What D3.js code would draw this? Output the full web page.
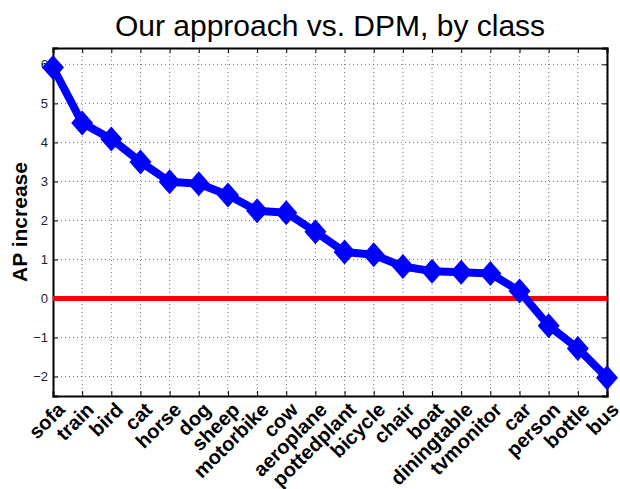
<!DOCTYPE html>
<html>
<head>
<meta charset="utf-8">
<script src="https://cdn.jsdelivr.net/npm/d3@7"></script>
<style>
  body { margin: 0; background: #fff; }
  text { font-family: "Liberation Sans", Arial, Helvetica, sans-serif; }
</style>
</head>
<body>
<div id="container"></div>
<script>
var classes = ["sofa", "train", "bird", "cat", "horse", "dog", "sheep", "motorbike", "cow",
  "aeroplane", "pottedplant", "bicycle", "chair", "boat", "diningtable", "tvmonitor",
  "car", "person", "bottle", "bus"];
var apIncrease = [5.92, 4.5, 4.09, 3.5, 2.99, 2.94, 2.65, 2.25, 2.2, 1.71, 1.19, 1.12,
  0.82, 0.7, 0.67, 0.64, 0.19, -0.7, -1.28, -2.03];
var yTicks = [-2, -1, 0, 1, 2, 3, 4, 5, 6];

var margin = {top: 48, right: 13, bottom: 93, left: 53},
    width = 620 - margin.left - margin.right,
    height = 489 - margin.top - margin.bottom;

var svg = d3.select("#container")
  .append("svg")
    .attr("width", 620)
    .attr("height", 489)
  .append("g")
    .attr("transform", "translate(" + margin.left + "," + margin.top + ")");

var x = d3.scalePoint()
  .domain(classes)
  .range([0, width]);

var y = d3.scaleLinear()
  .domain([-2.5, 6.42])
  .range([height, 0]);

// grid
svg.append("g")
  .selectAll("line")
  .data(classes.slice(1))
  .enter()
  .append("line")
    .attr("x1", function (d) { return x(d); })
    .attr("x2", function (d) { return x(d); })
    .attr("y1", 0)
    .attr("y2", height)
    .attr("stroke", "#777")
    .attr("stroke-width", 1)
    .attr("stroke-dasharray", "1,3");

svg.append("g")
  .selectAll("line")
  .data(yTicks)
  .enter()
  .append("line")
    .attr("x1", 0)
    .attr("x2", width)
    .attr("y1", function (d) { return y(d); })
    .attr("y2", function (d) { return y(d); })
    .attr("stroke", "#777")
    .attr("stroke-width", 1)
    .attr("stroke-dasharray", "1,3");

// axes (MATLAB style, inward ticks on all sides)
var fmt = function (d) { return d < 0 ? "\u2212" + Math.abs(d) : d; };

var yAxis = svg.append("g")
  .call(d3.axisLeft(y).tickValues(yTicks).tickSize(-5).tickPadding(5).tickFormat(fmt));
yAxis.selectAll("text").attr("font-size", 13).attr("fill", "#222");

svg.append("g")
  .attr("transform", "translate(" + width + ",0)")
  .call(d3.axisRight(y).tickValues(yTicks).tickSize(-5).tickFormat(""));

svg.append("g")
  .attr("transform", "translate(0," + height + ")")
  .call(d3.axisBottom(x).tickSize(-5).tickFormat(""));

svg.append("g")
  .call(d3.axisTop(x).tickSize(-5).tickFormat(""));

svg.selectAll(".domain").attr("stroke", "#000").attr("stroke-width", 2);
svg.selectAll(".tick line").attr("stroke", "#000").attr("stroke-width", 1);

// x labels rotated
svg.append("g")
  .selectAll("text")
  .data(classes)
  .enter()
  .append("text")
    .attr("transform", function (d) {
      return "translate(" + (x(d) + 13) + "," + (height + 15) + ") rotate(-45)";
    })
    .attr("text-anchor", "end")
    .attr("font-size", 20)
    .attr("font-weight", "bold")
    .attr("fill", "#000")
    .text(function (d) { return d; });

// zero line
svg.append("line")
  .attr("x1", 0)
  .attr("x2", width)
  .attr("y1", y(0))
  .attr("y2", y(0))
  .attr("stroke", "#ff0000")
  .attr("stroke-width", 5);

// series
var line = d3.line()
  .x(function (d, i) { return x(classes[i]); })
  .y(function (d) { return y(d); });

svg.append("path")
  .datum(apIncrease)
  .attr("d", line)
  .attr("fill", "none")
  .attr("stroke", "#0000ff")
  .attr("stroke-width", 8)
  .attr("stroke-linejoin", "round");

svg.selectAll("mymarker")
  .data(apIncrease)
  .enter()
  .append("path")
    .attr("d", "M0,-12.5L11,0L0,12.5L-11,0Z")
    .attr("transform", function (d, i) {
      return "translate(" + x(classes[i]) + "," + y(d) + ")";
    })
    .attr("fill", "#0000ff");

// title
svg.append("text")
  .attr("x", width / 2)
  .attr("y", -12)
  .attr("text-anchor", "middle")
  .attr("font-size", 30)
  .attr("fill", "#000")
  .text("Our approach vs. DPM, by class");

// y label
svg.append("text")
  .attr("transform", "translate(" + (-26) + "," + (height / 2) + ") rotate(-90)")
  .attr("text-anchor", "middle")
  .attr("font-size", 21)
  .attr("font-weight", "bold")
  .attr("fill", "#000")
  .text("AP increase");
</script>
</body>
</html>
